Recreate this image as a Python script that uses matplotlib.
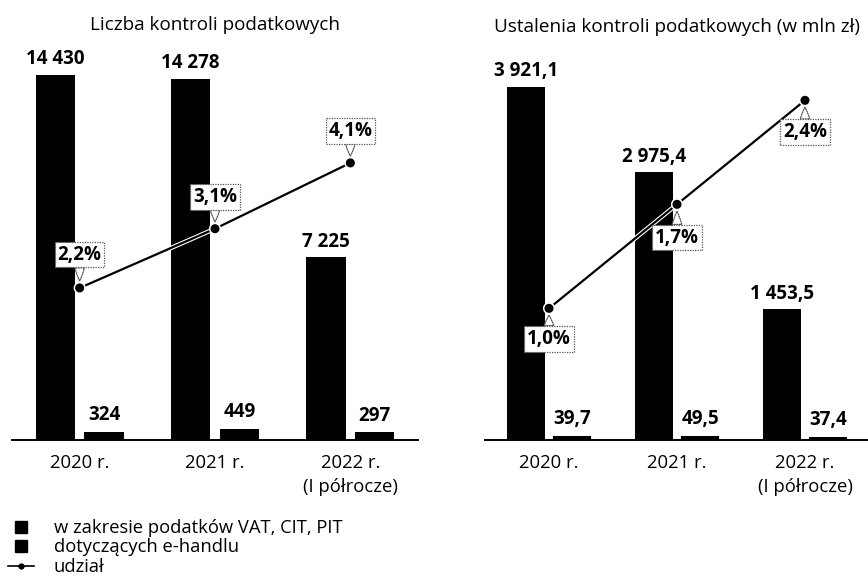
import matplotlib
matplotlib.use("Agg")
import matplotlib.pyplot as plt
import matplotlib.patheffects as pe
from matplotlib.lines import Line2D
import numpy as np

plt.rcParams['font.family'] = ['Open Sans', 'DejaVu Sans']

# ---- data ----
categories = ["2020 r.", "2021 r.", "2022 r.\n(I półrocze)"]
left_title = "Liczba kontroli podatkowych"
left_main = [14430, 14278, 7225]
left_ecom = [324, 449, 297]
left_share = [2.2, 3.1, 4.1]
left_main_lbl = ["14 430", "14 278", "7 225"]
left_ecom_lbl = ["324", "449", "297"]
left_share_lbl = ["2,2%", "3,1%", "4,1%"]

right_title = "Ustalenia kontroli podatkowych (w mln zł)"
right_main = [3921.1, 2975.4, 1453.5]
right_ecom = [39.7, 49.5, 37.4]
right_share = [1.0, 1.7, 2.4]
right_main_lbl = ["3 921,1", "2 975,4", "1 453,5"]
right_ecom_lbl = ["39,7", "49,5", "37,4"]
right_share_lbl = ["1,0%", "1,7%", "2,4%"]

legend_labels = ["w zakresie podatków VAT, CIT, PIT", "dotyczących e-handlu", "udział"]

W, H = 868, 585
fig = plt.figure(figsize=(W / 100, H / 100), dpi=100)


def px_axes(x0, x1, ytop, ybot):
    return fig.add_axes([x0 / W, 1 - ybot / H, (x1 - x0) / W, (ybot - ytop) / H])


def panel(x0, x1, title, main, ecom, share, main_lbl, ecom_lbl, share_lbl,
          ymax, pmin, pmax, share_offsets, title_y):
    ax = px_axes(x0, x1, 40, 440)
    x = np.arange(len(categories))
    off, w = 0.18, 0.29
    b1 = ax.bar(x - off, main, w, color="black", zorder=2)
    b2 = ax.bar(x + off, ecom, w, color="black", zorder=2)
    for rect, s in zip(b1, main_lbl):
        ax.annotate(s, (rect.get_x() + rect.get_width() / 2, rect.get_height()),
                    xytext=(0, 4), textcoords="offset points", ha="center", va="bottom",
                    fontsize=13.5, fontweight="bold")
    for rect, s in zip(b2, ecom_lbl):
        ax.annotate(s, (rect.get_x() + rect.get_width() / 2, rect.get_height()),
                    xytext=(0, 5), textcoords="offset points", ha="center", va="bottom",
                    fontsize=13.5, fontweight="bold")
    ax.set_xlim(-0.5, 2.5)
    ax.set_ylim(0, ymax)
    for s in ["top", "left", "right"]:
        ax.spines[s].set_visible(False)
    ax.spines["bottom"].set_linewidth(1.4)
    ax.set_yticks([])
    ax.set_xticks(x)
    ax.set_xticklabels(categories, fontsize=13.3, linespacing=1.45)
    ax.tick_params(axis="x", length=0, pad=10)
    fig.text((x0 + x1) / 2 / W, 1 - title_y / H, title, ha="center", va="center", fontsize=13.6)

    ax2 = ax.twinx()
    ax2.set_ylim(pmin, pmax)
    ax2.set_axis_off()
    ax2.plot(x, share, color="black", lw=1.6, marker="o", markersize=5.5, zorder=3,
             path_effects=[pe.Stroke(linewidth=3.2, foreground="white"), pe.Normal()])
    for xi, yi, s, dy in zip(x, share, share_lbl, share_offsets):
        ax2.annotate(s, (xi, yi), xytext=(0, dy), textcoords="offset points",
                     ha="center", va="center", fontsize=13.5, fontweight="bold", zorder=5,
                     bbox=dict(boxstyle="square,pad=0.15", fc="white", ec="#555555",
                               ls=(0, (1, 1)), lw=0.9),
                     arrowprops=dict(arrowstyle="wedge,tail_width=0.5,shrink_factor=0.6",
                                     fc="white", ec="#555555", ls=(0, (1, 1)), lw=0.9,
                                     shrinkA=0, shrinkB=5))
    return ax


panel(12, 418, left_title, left_main, left_ecom, left_share,
      left_main_lbl, left_ecom_lbl, left_share_lbl,
      ymax=400 / 0.025295, pmin=-0.111, pmax=5.968,
      share_offsets=[24, 23, 23], title_y=25)

panel(485, 869, right_title, right_main, right_ecom, right_share,
      right_main_lbl, right_ecom_lbl, right_share_lbl,
      ymax=400 / 0.09003, pmin=0.114, pmax=2.806,
      share_offsets=[-22, -24, -23], title_y=27)

handles = [Line2D([], [], marker="s", ls="none", color="black", markersize=8.5),
           Line2D([], [], marker="s", ls="none", color="black", markersize=8.5),
           Line2D([], [], marker="o", ls="-", color="black", lw=1.2, markersize=3.5)]
fig.legend(handles, legend_labels, loc="upper left", bbox_to_anchor=(8 / W, 1 - 519 / H),
           frameon=False, fontsize=13.2, handlelength=1.4, handletextpad=1.1,
           labelspacing=0.08, borderpad=0, borderaxespad=0)

fig.savefig("out.png", dpi=100)
